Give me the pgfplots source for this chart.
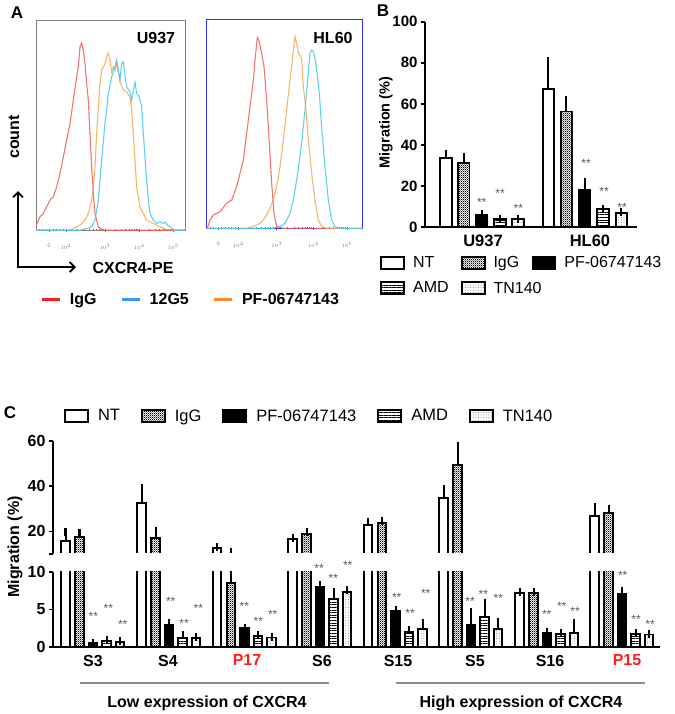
\documentclass[border=0pt]{standalone}
\usepackage{fontspec}
\setmainfont{Liberation Sans}
\usepackage{pgfplots}
\usepackage{pgfplotstable}
\pgfplotsset{compat=1.18}
\usetikzlibrary{patterns,patterns.meta,arrows.meta}

\newcommand{\fs}[1]{\fontsize{#1bp}{#1bp}\selectfont}

\definecolor{hred}{RGB}{242,90,90}
\definecolor{hblue}{RGB}{70,200,240}
\definecolor{horange}{RGB}{245,168,80}
\definecolor{lred}{RGB}{250,30,30}
\definecolor{lblue}{RGB}{60,150,255}
\definecolor{lorange}{RGB}{255,135,40}
\definecolor{hlred}{RGB}{255,30,30}

\tikzdeclarepattern{
  name=finecheck, type=uncolored,
  bottom left={(0bp,0bp)}, top right={(2.2bp,2.2bp)},
  tile size={(2.2bp,2.2bp)},
  code={\fill (0bp,0bp) rectangle (1.1bp,1.1bp); \fill (1.1bp,1.1bp) rectangle (2.2bp,2.2bp);}
}

% panel C data: x, value, error
\pgfplotstableread{
x y e
65.5 15.9 3.8
141.5 32.7 6.3
217 12.6 0.3
292.5 16.6 0.3
368 22.9 1.1
443.5 34.6 4.0
519.5 7.15 0.2
594.5 27.0 3.7
}\tNT
\pgfplotstableread{
x y e
79.5 17.4 1.7
155.5 17.2 3.1
231 8.5 2.5
306.5 18.8 1.0
382 23.7 1.1
457.5 49.3 8.7
533.5 7.15 0.15
608.5 28.1 1.9
}\tIgG
\pgfplotstableread{
x y e
93 0.55 0.05
169 2.9 0.3
244.5 2.5 0.1
320 8.0 0.25
395.5 4.8 0.1
471 2.95 1.75
547 1.9 0.1
622 7.1 0.4
}\tPF
\pgfplotstableread{
x y e
106.5 0.9 0.1
182.5 1.2 0.4
258 1.5 0.1
333.5 6.4 0.9
409 2.0 0.3
484.5 4.05 1.75
560.5 1.8 0.1
635.5 1.8 0.1
}\tAMD
\pgfplotstableread{
x y e
120 0.7 0.1
196 1.2 0.1
271.5 1.3 0.1
347 7.3 0.3
422.5 2.4 0.8
498 2.4 1.0
574 1.9 1.3
649 1.7 0.1
}\tTN

\tikzset{ast/.style={font=\fs{12}, text=black!65, inner sep=0pt, yshift=-2.6bp}}

\pgfplotsset{
  hist/.style={no markers, line width=1.1bp, opacity=0.85, forget plot},
  bbar/.style={ybar, bar shift=0pt, draw=black, line width=1.9bp, forget plot,
    error bars/y dir=plus, error bars/y explicit,
    error bars/error bar style={line width=2bp, black, solid},
    error bars/error mark options={line width=2bp, black, mark size=4bp}},
  sNT/.style={fill=white},
  sIgG/.style={pattern=finecheck, pattern color=black},
  sPF/.style={fill=black},
  sAMD/.style={pattern={Lines[angle=0,distance=2.6bp,line width=0.9bp]}, pattern color=black},
  sTN/.style={pattern={Dots[distance=2.6bp,radius=0.5bp]}, pattern color=black!55},
  legbox/.style 2 args={legend image code/.code={\draw[##1, draw=black, line width=1.9bp] (0bp,-#2) rectangle (#1,#2);}},
  histaxis/.style={scale only axis, ytick=\empty, tick pos=left, tick align=center,
    major tick length=3bp, minor tick length=2bp,
    tick style={black!60, line width=0.6bp},
    xticklabel style={font=\fs{5}, text=black!55, yshift=-9bp}},
}

\begin{document}
\begin{tikzpicture}
\useasboundingbox (0,0) rectangle (675bp,-714bp);

% ---------------- panel A, U937 ----------------
\begin{axis}[histaxis, at={(36bp,-230.2bp)}, anchor=south west,
  width=149bp, height=209.3bp,
  xmin=108, xmax=555, ymin=0, ymax=628,
  axis line style={draw=black!50, line width=1bp},
  xtick={147,198,315,418,520}, xticklabels={0,$10^{2}$,$10^{3}$,$10^{4}$,$10^{5}$},
  minor xtick={118,128,138,160,170,180,190,233,254,268,280,289,297,304,310,346,364,377,387,395,402,408,413,449,467,479,489,497,504,510,515},
  legend columns=3,
  legend style={at={(axis description cs:0.03,-0.33)}, anchor=west, draw=none, fill=none,
    inner sep=0pt, font=\fs{16}\bfseries,
    /tikz/every even column/.append style={column sep=22bp},
    /tikz/every odd column/.append style={column sep=6bp}},
  legend image code/.code={\draw[#1] (0bp,0bp) -- (18bp,0bp);},
]
\addplot[hist, hred] coordinates {(108,0) (110,18) (120,40) (130,50) (140,70) (150,90) (160,100) (170,130) (180,170) (190,220) (200,270) (210,320) (220,390) (230,460) (235,490) (240,550) (245,562) (250,540) (255,500) (260,440) (265,390) (270,290) (275,190) (280,110) (285,50) (295,10) (310,0) (555,0)};
\addplot[hist, horange] coordinates {(108,0) (210,0) (220,5) (240,15) (255,30) (265,50) (275,90) (280,130) (285,190) (290,290) (295,370) (300,440) (305,480) (315,500) (320,520) (325,532) (330,510) (335,475) (340,490) (345,480) (350,500) (355,475) (360,445) (370,420) (380,415) (390,400) (395,360) (400,290) (405,210) (410,130) (420,70) (430,50) (440,30) (460,20) (480,10) (500,2) (520,0) (555,0)};
\addplot[hist, hblue] coordinates {(108,0) (240,0) (260,5) (275,10) (285,30) (295,90) (305,210) (315,320) (325,410) (335,460) (345,490) (350,512) (355,480) (360,450) (365,500) (370,505) (375,460) (380,430) (390,415) (395,390) (400,420) (405,445) (410,410) (415,405) (420,390) (425,370) (430,290) (435,220) (440,150) (445,90) (450,50) (460,30) (470,20) (480,25) (490,20) (495,25) (500,18) (510,10) (520,2) (530,0) (555,0)};
\addlegendimage{line width=3.2bp, lred}\addlegendentry{IgG}
\addlegendimage{line width=3.2bp, lblue}\addlegendentry{12G5}
\addlegendimage{line width=3.2bp, lorange}\addlegendentry{PF-06747143}
\end{axis}

% ---------------- panel A, HL60 ----------------
\begin{axis}[histaxis, at={(206.7bp,-228.3bp)}, anchor=south west,
  width=155.6bp, height=208.3bp,
  xmin=620, xmax=1087, ymin=0, ymax=625,
  axis line style={draw=blue!80, line width=1bp},
  xtick={655,715,830,940,1041}, xticklabels={0,$10^{2}$,$10^{3}$,$10^{4}$,$10^{5}$},
  minor xtick={630,640,665,675,685,695,705,750,770,784,795,804,812,819,825,863,882,896,907,916,923,929,935,970,988,1001,1011,1019,1025,1031,1036},
]
\addplot[hist, hred] coordinates {(620,0) (622,0) (630,25) (640,40) (660,50) (680,75) (695,85) (710,125) (720,165) (730,205) (740,285) (750,365) (760,445) (765,505) (772,573) (778,560) (785,525) (792,485) (800,385) (808,255) (815,135) (822,45) (830,5) (850,0) (1087,0)};
\addplot[hist, horange] coordinates {(620,0) (740,0) (760,5) (780,15) (790,25) (800,40) (810,60) (820,85) (830,125) (840,185) (850,265) (860,355) (870,445) (878,515) (885,575) (890,555) (895,525) (900,520) (905,505) (910,425) (918,355) (925,265) (935,165) (945,85) (955,25) (965,5) (980,0) (1087,0)};
\addplot[hist, hblue] coordinates {(620,0) (820,0) (840,5) (855,15) (870,45) (880,85) (890,145) (900,215) (910,305) (918,385) (925,465) (930,525) (935,535) (940,530) (945,510) (950,475) (958,405) (965,305) (975,185) (985,85) (995,25) (1005,5) (1020,0) (1087,0)};
\end{axis}

% ---------------- panel B ----------------
\begin{axis}[at={(425bp,-227.3bp)}, anchor=south west, scale only axis,
  width=211.7bp, height=205.6bp,
  xmin=425, xmax=636.7, ymin=0, ymax=100,
  axis x line*=bottom, axis y line*=left,
  axis line style={line width=1.8bp},
  ytick={0,20,40,60,80,100},
  xtick={483,590}, xticklabels={U937,HL60},
  x tick style={draw=none},
  y tick style={line width=1.8bp, black},
  major tick length=4bp, tick align=outside,
  yticklabel style={font=\fs{15}\bfseries},
  xticklabel style={font=\fs{16.5}\bfseries},
  /pgf/number format/assume math mode=true,
  bar width=11.5, clip=false,
  legend columns=3, legend cell align=left,
  legend style={at={(axis description cs:-0.2126,-0.13)}, anchor=north west, draw=none, fill=none,
    inner sep=0pt, font=\fs{16}, row sep=9bp,
    /tikz/every even column/.append style={column sep=10bp},
    /tikz/every odd column/.append style={column sep=6bp}},
]
\addplot[bbar, sNT] coordinates {(445.8,33.6) +- (0,1.9) (548.3,67.2) +- (0,13.7)};
\addplot[bbar, sIgG] coordinates {(463.7,31.1) +- (0,3.3) (566.3,56.3) +- (0,5.6)};
\addplot[bbar, sPF] coordinates {(481.7,6.0) +- (0,0.4) (584.7,18.2) +- (0,4.0)};
\addplot[bbar, sAMD] coordinates {(500,3.9) +- (0,0.2) (603,8.8) +- (0,0.3)};
\addplot[bbar, sTN] coordinates {(518,3.9) +- (0,0.3) (621.3,7.1) +- (0,0.4)};
\addlegendimage{legbox={23bp}{6bp}, sNT}\addlegendentry{NT}
\addlegendimage{legbox={23bp}{6bp}, sIgG}\addlegendentry{IgG}
\addlegendimage{legbox={23bp}{6bp}, sPF}\addlegendentry{PF-06747143}
\addlegendimage{legbox={23bp}{6bp}, sAMD}\addlegendentry{AMD}
\addlegendimage{legbox={23bp}{6bp}, sTN}\addlegendentry{\makebox[26bp][l]{TN140}}
\node[ast] at (axis cs:481.7,13.3) {**};
\node[ast] at (axis cs:500,17.8) {**};
\node[ast] at (axis cs:518.3,10.5) {**};
\node[ast] at (axis cs:586,32.4) {**};
\node[ast] at (axis cs:604,18.6) {**};
\node[ast] at (axis cs:622,11.2) {**};
\end{axis}

% ---------------- panel C, upper part (10 to 60) ----------------
\begin{axis}[at={(53bp,-554bp)}, anchor=south west, scale only axis,
  width=607bp, height=113bp,
  xmin=53, xmax=660, ymin=10, ymax=60,
  axis x line=none, axis y line*=left,
  axis line style={line width=1.8bp},
  ytick={10,20,40,60}, yticklabels={,20,40,60},
  y tick style={line width=1.8bp, black},
  major tick length=4bp, tick align=outside,
  yticklabel style={font=\fs{16}\bfseries},
  bar width=8.5, clip mode=individual,
  legend columns=5, legend cell align=left,
  legend style={at={(axis description cs:0.018,1.221)}, anchor=west, draw=none, fill=none,
    inner sep=0pt, font=\fs{16.5},
    /tikz/every even column/.append style={column sep=19bp},
    /tikz/every odd column/.append style={column sep=7bp}},
]
\addplot[bbar, sNT] table[x=x, y=y, y error=e] {\tNT};
\addplot[bbar, sIgG] table[x=x, y=y, y error=e] {\tIgG};
\addlegendimage{legbox={23bp}{6bp}, sNT}\addlegendentry{NT}
\addlegendimage{legbox={23bp}{6bp}, sIgG}\addlegendentry{IgG}
\addlegendimage{legbox={23bp}{6bp}, sPF}\addlegendentry{PF-06747143}
\addlegendimage{legbox={23bp}{6bp}, sAMD}\addlegendentry{AMD}
\addlegendimage{legbox={23bp}{6bp}, sTN}\addlegendentry{TN140}
\end{axis}

% white gap of the broken axis
\fill[white] (54.8bp,-552.9bp) rectangle (668bp,-570.5bp);

% ---------------- panel C, lower part (0 to 10) ----------------
\begin{axis}[at={(53bp,-647.3bp)}, anchor=south west, scale only axis,
  width=607bp, height=75.6bp,
  xmin=53, xmax=660, ymin=0, ymax=10,
  axis x line*=bottom, axis y line*=left,
  axis line style={line width=1.8bp},
  ytick={0,5,10},
  xtick={93,168,247,322,398,475,550,627},
  xticklabels={S3,S4,\textcolor{hlred}{P17},S6,S15,S5,S16,\textcolor{hlred}{P15}},
  x tick style={draw=none},
  y tick style={line width=1.8bp, black},
  major tick length=4bp, tick align=outside,
  yticklabel style={font=\fs{16}\bfseries},
  xticklabel style={font=\fs{16}\bfseries},
  /pgf/number format/assume math mode=true,
  bar width=8.5, clip mode=individual,
]
\addplot[bbar, sNT] table[x=x, y=y, y error=e] {\tNT};
\addplot[bbar, sIgG] table[x=x, y=y, y error=e] {\tIgG};
\addplot[bbar, sPF] table[x=x, y=y, y error=e] {\tPF};
\addplot[bbar, sAMD] table[x=x, y=y, y error=e] {\tAMD};
\addplot[bbar, sTN] table[x=x, y=y, y error=e] {\tTN};
\node[ast] at (axis cs:93.3,4.4) {**};
\node[ast] at (axis cs:108.3,5.5) {**};
\node[ast] at (axis cs:122.7,3.4) {**};
\node[ast] at (axis cs:170.7,6.4) {**};
\node[ast] at (axis cs:184,3.5) {**};
\node[ast] at (axis cs:198.3,5.5) {**};
\node[ast] at (axis cs:244.3,5.7) {**};
\node[ast] at (axis cs:258.3,3.75) {**};
\node[ast] at (axis cs:272.7,4.7) {**};
\node[ast] at (axis cs:319,10.8) {**};
\node[ast] at (axis cs:333.3,9.4) {**};
\node[ast] at (axis cs:347.7,11.2) {**};
\node[ast] at (axis cs:396.7,6.9) {**};
\node[ast] at (axis cs:410,4.8) {**};
\node[ast] at (axis cs:425.7,7.5) {**};
\node[ast] at (axis cs:470,6.4) {**};
\node[ast] at (axis cs:483.3,7.4) {**};
\node[ast] at (axis cs:498.3,6.8) {**};
\node[ast] at (axis cs:546.7,4.7) {**};
\node[ast] at (axis cs:561.7,5.7) {**};
\node[ast] at (axis cs:575,5.1) {**};
\node[ast] at (axis cs:622.7,9.8) {**};
\node[ast] at (axis cs:636,4.0) {**};
\node[ast] at (axis cs:650,3.4) {**};
\end{axis}

% ---------------- annotations ----------------
\node[font=\fs{17}\bfseries] at (17bp,-13bp) {A};
\node[font=\fs{17}\bfseries] at (383bp,-11bp) {B};
\node[font=\fs{17}\bfseries] at (10bp,-413bp) {C};
\node[font=\fs{16}\bfseries] at (156bp,-38bp) {U937};
\node[font=\fs{16}\bfseries] at (333bp,-38bp) {HL60};
\draw[line width=1.8bp, {Straight Barb[length=5bp,width=10bp]}-{Straight Barb[length=5bp,width=10bp]}]
  (18bp,-191bp) -- (18bp,-267bp) -- (76bp,-267bp);
\node[rotate=90, font=\fs{16}\bfseries] at (14bp,-137bp) {count};
\node[font=\fs{16}\bfseries] at (133bp,-268bp) {CXCR4-PE};
\node[rotate=90, font=\fs{14.5}\bfseries] at (386bp,-122.5bp) {Migration (\%)};
\node[rotate=90, font=\fs{16}\bfseries] at (15bp,-547bp) {Migration (\%)};
\draw[black!45, line width=2.2bp] (80bp,-683bp) -- (329bp,-683bp);
\draw[black!45, line width=2.2bp] (396bp,-683bp) -- (645bp,-683bp);
\node[font=\fs{16}\bfseries] at (207bp,-703bp) {Low expression of CXCR4};
\node[font=\fs{16}\bfseries] at (521bp,-703bp) {High expression of CXCR4};
\end{tikzpicture}
\end{document}
